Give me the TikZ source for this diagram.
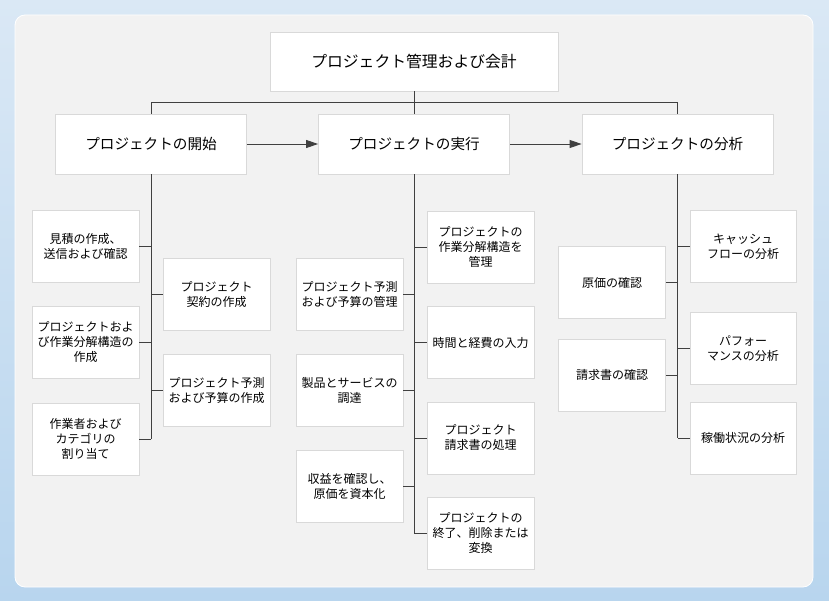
\documentclass[tikz,border=0pt]{standalone}
\usepackage{fontspec}
\setmainfont{Noto Sans CJK JP}
\usepackage{tikz}
\usetikzlibrary{arrows.meta,positioning}
\definecolor{skytop}{HTML}{DAE8F5}
\definecolor{skybot}{HTML}{B8D5EE}
\definecolor{panel}{HTML}{F2F2F2}
\definecolor{boxline}{HTML}{D9D9D9}
\definecolor{wire}{HTML}{404040}
\begin{document}
\begin{tikzpicture}
  [
    x=1pt,y=-1pt,
    box/.style={rectangle,draw=boxline,fill=white,line width=0.8pt,inner sep=2pt,align=center},
    root/.style={box,minimum width=288pt,minimum height=59pt,font=\fontsize{15.8}{19}\selectfont},
    phase/.style={box,minimum width=191pt,minimum height=60pt,font=\fontsize{14.6}{18}\selectfont},
    task/.style={box,minimum width=107pt,minimum height=72pt,font=\fontsize{12}{15}\selectfont},
    branch/.style={draw=wire,line width=0.9pt},
    flow/.style={branch,-{Triangle[length=12pt,width=8pt]}}
  ]
  % background and panel
  \fill[top color=skytop,bottom color=skybot] (0,0) rectangle (829,601);
  \filldraw[fill=panel,draw=white,line width=0.8pt,rounded corners=10pt] (15,15) rectangle (813,587);
  \useasboundingbox (0,0) rectangle (829,601);

  % top levels
  \node[root] (pm) at (414,61.5) {プロジェクト管理および会計};
  \node[phase] (start) at (151,144) {プロジェクトの開始};
  \node[phase] (exec) at (414,144) {プロジェクトの実行};
  \node[phase] (anal) at (677.5,144) {プロジェクトの分析};
  \coordinate (bus) at (0,102);

  % start column
  \node[task] (quote) at (85.5,246) {見積の作成、\\送信および確認};
  \node[task] (wbs) at (85.5,342.5) {プロジェクトおよ\\び作業分解構造の\\作成};
  \node[task] (worker) at (85.5,439) {作業者および\\カテゴリの\\割り当て};
  \node[task] (contract) at (216.5,294.5) {プロジェクト\\契約の作成};
  \node[task] (budget) at (216.5,390) {プロジェクト予測\\および予算の作成};

  % exec column
  \node[task] (wbsmgmt) at (480.5,247.5) {プロジェクトの\\作業分解構造を\\管理};
  \node[task] (time) at (480.5,342.5) {時間と経費の入力};
  \node[task] (invoice) at (480.5,438) {プロジェクト\\請求書の処理};
  \node[task] (close) at (480.5,533.5) {プロジェクトの\\終了、削除または\\変換};
  \node[task] (forecast) at (349.5,294.5) {プロジェクト予測\\および予算の管理};
  \node[task] (procure) at (349.5,390.5) {製品とサービスの\\調達};
  \node[task] (revenue) at (349.5,486.5) {収益を確認し、\\原価を資本化};

  % analysis column
  \node[task,minimum width=106pt] (cash) at (743,246.5) {キャッシュ\\フローの分析};
  \node[task,minimum width=106pt] (perf) at (743,348.5) {パフォー\\マンスの分析};
  \node[task,minimum width=106pt] (usage) at (743,438) {稼働状況の分析};
  \node[task] (cost) at (612,282.5) {原価の確認};
  \node[task] (bill) at (612,375) {請求書の確認};

  % tree lines
  \draw[branch] (pm.south) -- (pm.south |- exec.north);
  \draw[branch] (start.north) -- (start.north |- bus) -- (anal.north |- bus) -- (anal.north);
  \draw[flow] (start) -- (exec);
  \draw[flow] (exec) -- (anal);

  \draw[branch] (start.south) -- (start.south |- worker.east);
  \foreach \n in {quote,wbs,worker}
    \draw[branch] (\n.east) -- (\n.east -| start.south);
  \foreach \n in {contract,budget}
    \draw[branch] (\n.west) -- (\n.west -| start.south);

  \draw[branch] (exec.south) -- (exec.south |- close.west);
  \foreach \n in {wbsmgmt,time,invoice,close}
    \draw[branch] (\n.west) -- (\n.west -| exec.south);
  \foreach \n in {forecast,procure,revenue}
    \draw[branch] (\n.east) -- (\n.east -| exec.south);

  \draw[branch] (anal.south) -- (anal.south |- usage.west);
  \foreach \n in {cash,perf,usage}
    \draw[branch] (\n.west) -- (\n.west -| anal.south);
  \foreach \n in {cost,bill}
    \draw[branch] (\n.east) -- (\n.east -| anal.south);
\end{tikzpicture}
\end{document}
